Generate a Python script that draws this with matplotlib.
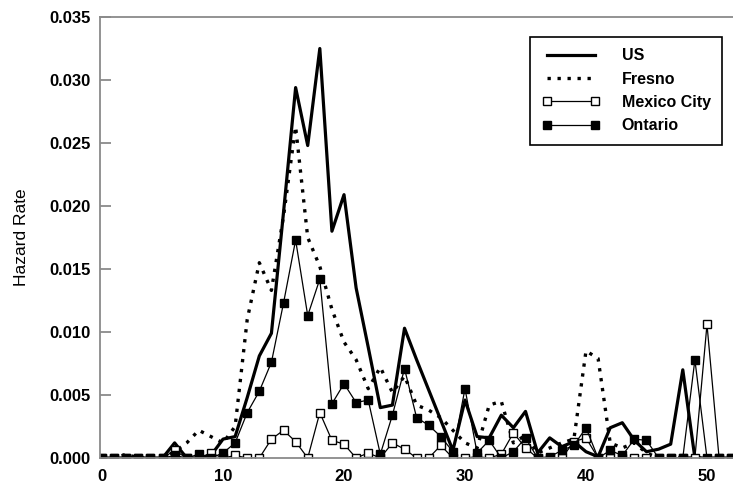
import numpy as np
import matplotlib
matplotlib.use("Agg")
from matplotlib import pyplot as plt

# age (years) and hazard rates
age = np.arange(0, 53)

us = [0, 0, 0, 0, 0, 0, 0.0012, 0, 0, 0.0002,
      0.0015, 0.0017, 0.0048, 0.0081, 0.0099, 0.0195, 0.0294, 0.0248, 0.0325, 0.0180,
      0.0209, 0.0135, 0.0088, 0.0040, 0.0042, 0.0103, 0.0078, 0.0054, 0.0030, 0.0006,
      0.0046, 0.0017, 0.0016, 0.0034, 0.0024, 0.0037, 0.0004, 0.0016, 0.0009, 0.0013,
      0.0005, 0.0001, 0.0024, 0.0028, 0.0014, 0.0005, 0.0007, 0.0011, 0.0070, 0,
      0, 0, 0]

fresno = [0, 0, 0.0003, 0, 0, 0, 0.0005, 0.0012, 0.0022, 0.0017,
          0.0012, 0.0025, 0.0110, 0.0155, 0.0133, 0.0192, 0.0263, 0.0175, 0.0152, 0.0118,
          0.0092, 0.0078, 0.0055, 0.0072, 0.0052, 0.0065, 0.0042, 0.0038, 0.0032, 0.0022,
          0.0012, 0.0008, 0.0042, 0.0045, 0.0012, 0.0018, 0.0004, 0.0008, 0.0012, 0.0015,
          0.0085, 0.0079, 0.0012, 0.0008, 0.0012, 0.0004, 0, 0, 0, 0,
          0, 0, 0]

mexico_city = [0, 0, 0, 0, 0, 0, 0.0006, 0, 0, 0.0004,
               0, 0.0002, 0, 0, 0.0015, 0.0022, 0.0013, 0, 0.0036, 0.0014,
               0.0011, 0, 0.0004, 0, 0.0012, 0.0007, 0, 0, 0.0010, 0,
               0, 0.0001, 0, 0.0003, 0.0020, 0.0008, 0, 0, 0, 0.0013,
               0.0016, 0, 0, 0, 0, 0, 0, 0, 0, 0,
               0.0106, 0, 0]

ontario = [0, 0, 0, 0, 0, 0, 0.0002, 0, 0.0003, 0,
           0.0004, 0.0012, 0.0036, 0.0053, 0.0076, 0.0123, 0.0173, 0.0113, 0.0142, 0.0043,
           0.0059, 0.0044, 0.0046, 0.0003, 0.0034, 0.0071, 0.0032, 0.0026, 0.0017, 0.0005,
           0.0055, 0.0004, 0.0014, 0, 0.0005, 0.0016, 0, 0.0001, 0.0006, 0.0010,
           0.0024, 0, 0.0006, 0.0002, 0.0015, 0.0014, 0, 0, 0, 0.0078,
           0, 0, 0]

yticks = [0.000, 0.005, 0.010, 0.015, 0.020, 0.025, 0.030, 0.035]
xticks = [0, 10, 20, 30, 40, 50]

plt.rcParams["font.family"] = ["Liberation Sans", "DejaVu Sans"]

fig = plt.figure(figsize=(7.33, 4.86), dpi=100)
ax = fig.add_axes([0.1364, 0.0576, 0.8636, 0.9074])

ax.plot(age, us, "-", color="black", lw=2.3, label="US")
ax.plot(age, fresno, color="black", lw=2.4, linestyle=(0, (1, 2.0)), label="Fresno")
ax.plot(age, mexico_city, "-", color="black", lw=0.9, marker="s", ms=6,
        mfc="white", mec="black", mew=1.0, label="Mexico City")
ax.plot(age, ontario, "-", color="black", lw=0.9, marker="s", ms=6.3,
        mfc="black", mec="black", label="Ontario")

ax.set_xlim(-0.17, 52.15)
ax.set_ylim(0, 0.035)
ax.set_yticks(yticks)
ax.set_yticklabels([f"{v:.3f}" for v in yticks])
ax.set_xticks(xticks)
ax.set_xticklabels([str(v) for v in xticks])

for side in ["left", "top", "bottom"]:
    ax.spines[side].set_color("#8a8a8a")
    ax.spines[side].set_linewidth(1.3)
ax.spines["right"].set_visible(False)

ax.tick_params(axis="y", direction="in", length=8, width=1.3, color="#8a8a8a", pad=7)
ax.tick_params(axis="x", direction="in", length=0, pad=8)
for lab in ax.get_xticklabels() + ax.get_yticklabels():
    lab.set_fontsize(12)
    lab.set_fontweight("bold")

ax.set_ylabel("Hazard Rate", fontsize=12.5, labelpad=14)

leg = ax.legend(loc="upper right", bbox_to_anchor=(0.983, 0.955), borderaxespad=0,
                fancybox=False, edgecolor="black", framealpha=1, numpoints=2,
                handlelength=3.6, handletextpad=1.4, labelspacing=0.52,
                borderpad=0.72, markerscale=0.85, prop={"weight": "bold", "size": 11.5})
leg.get_frame().set_linewidth(1.2)

fig.savefig("out.png", dpi=100)
